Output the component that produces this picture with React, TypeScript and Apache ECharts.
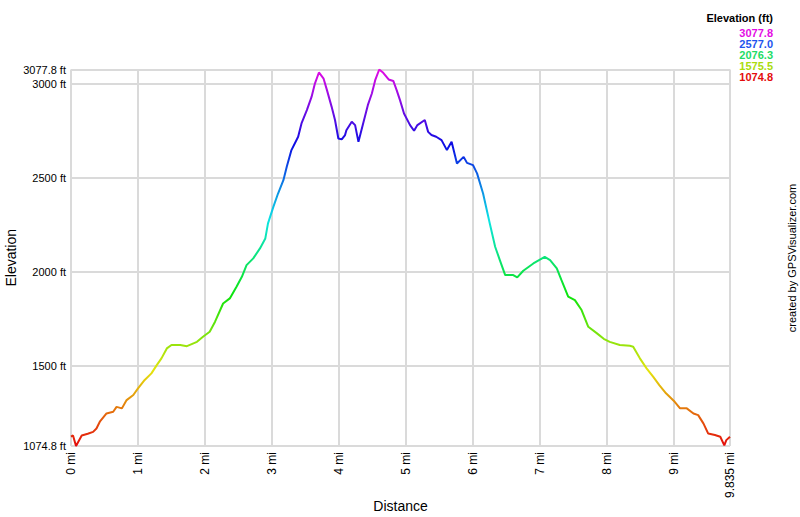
import React, { useEffect, useRef } from "react";
import * as echarts from "echarts";

// Distance along the track (miles)
const distanceMi: number[] = [
  0.0, 0.03, 0.075, 0.16, 0.25, 0.33, 0.38, 0.43, 0.53, 0.63, 0.68, 0.76, 0.83, 0.93,
  1.0, 1.1, 1.2, 1.28, 1.35, 1.43, 1.5, 1.63, 1.73, 1.88, 1.97, 2.07, 2.15, 2.27, 2.37,
  2.47, 2.55, 2.62, 2.72, 2.82, 2.9, 2.94, 3.02, 3.09, 3.17, 3.22, 3.29, 3.39, 3.44,
  3.52, 3.59, 3.64, 3.7, 3.77, 3.82, 3.89, 3.94, 3.99, 4.04, 4.09, 4.11, 4.19, 4.24,
  4.29, 4.36, 4.43, 4.49, 4.54, 4.6, 4.66, 4.74, 4.81, 4.86, 4.91, 4.97, 5.06, 5.12,
  5.17, 5.28, 5.33, 5.38, 5.45, 5.53, 5.61, 5.68, 5.76, 5.86, 5.91, 6.0, 6.06, 6.15,
  6.25, 6.33, 6.4, 6.48, 6.6, 6.66, 6.75, 6.9, 7.07, 7.15, 7.25, 7.32, 7.42, 7.52,
  7.62, 7.72, 7.85, 7.95, 8.04, 8.19, 8.34, 8.39, 8.49, 8.59, 8.69, 8.78, 8.88, 9.01,
  9.09, 9.19, 9.29, 9.36, 9.44, 9.51, 9.61, 9.69, 9.75, 9.78, 9.835,
];

// Elevation (feet)
const elevationFt: number[] = [
  1125, 1131, 1074.8, 1131, 1140, 1150, 1168, 1204, 1248, 1257, 1283, 1275, 1319, 1346,
  1381, 1426, 1461, 1505, 1541, 1594, 1612, 1612, 1606, 1629, 1656, 1683, 1736, 1833, 1860,
  1922, 1975, 2037, 2073, 2126, 2179, 2259, 2347, 2418, 2489, 2560, 2649, 2720, 2791,
  2862, 2932, 3003, 3062, 3029, 2968, 2879, 2809, 2711, 2706, 2729, 2755, 2800, 2782,
  2693, 2791, 2888, 2950, 3021, 3077.8, 3060, 3025, 3017, 2968, 2915, 2844, 2782, 2752,
  2782, 2809, 2746, 2729, 2720, 2702, 2649, 2693, 2578, 2613, 2581, 2569, 2525, 2418,
  2259, 2135, 2064, 1984, 1984, 1972, 2007, 2046, 2081, 2064, 2020, 1957, 1869, 1851,
  1798, 1709, 1674, 1645, 1629, 1612, 1608, 1603, 1541, 1488, 1443, 1399, 1355, 1310,
  1275, 1275, 1248, 1239, 1194, 1141, 1133, 1124, 1078, 1106, 1124,
];

const elevMin = 1074.8;
const elevMax = 3077.8;
const distMax = 9.835;

// Legend (colour scale) labels, top to bottom
const legendTitle = "Elevation (ft)";
const legendLabels: string[] = ["3077.8", "2577.0", "2076.3", "1575.5", "1074.8"];
const legendColors: string[] = ["#e40ce4", "#1f55ee", "#1ddc66", "#aadc0c", "#e40c0c"];

// Elevation colour ramp (low -> high)
const rampColors: string[] = [
  "#e40c0c", "#e4780c", "#e4e40c", "#78e40c", "#0ce40c", "#0ce478",
  "#0ce4e4", "#0c78e4", "#0c0ce4", "#780ce4", "#e40ce4",
];

const FONT = "'Liberation Sans', Arial, sans-serif";

export default function App() {
  const ref = useRef<HTMLDivElement>(null);

  useEffect(() => {
    if (!ref.current) return;
    const chart = echarts.init(ref.current, null, { renderer: "svg" });
    const data = distanceMi.map((d, i) => [d, elevationFt[i]]);
    const gridColor = "#dadada";

    const legendGraphics: any[] = [
      {
        type: "text",
        right: 27,
        top: 12,
        style: { text: legendTitle, font: `bold 11px ${FONT}`, fill: "#000", align: "right" },
      },
      ...legendLabels.map((t, i) => ({
        type: "text",
        right: 27,
        top: 27 + i * 11,
        style: { text: t, font: `bold 11px ${FONT}`, fill: legendColors[i], align: "right" },
      })),
      {
        type: "text",
        x: 792,
        y: 258,
        rotation: Math.PI / 2,
        style: {
          text: "created by GPSVisualizer.com",
          font: `11px ${FONT}`,
          fill: "#000",
          align: "center",
          verticalAlign: "middle",
        },
      },
    ];

    chart.setOption({
      animation: false,
      backgroundColor: "#fff",
      grid: {
        left: 71,
        right: 70,
        top: 69.5,
        bottom: 71,
        containLabel: false,
        outerBoundsMode: "none",
      },
      xAxis: {
        type: "value",
        min: 0,
        max: distMax,
        interval: 1,
        name: "Distance",
        nameLocation: "middle",
        nameGap: 53,
        nameMoveOverlap: false,
        nameTextStyle: { fontFamily: FONT, fontSize: 14, color: "#000" },
        axisLine: { show: false },
        axisTick: { show: false },
        axisLabel: {
          rotate: 90,
          margin: 6,
          showMinLabel: true,
          showMaxLabel: true,
          fontFamily: FONT,
          fontSize: 12,
          color: "#000",
          formatter: (v: number) => `${v} mi`,
        },
        splitLine: { show: true, lineStyle: { color: gridColor, width: 2 } },
      },
      yAxis: {
        type: "value",
        min: elevMin,
        max: elevMax,
        splitNumber: 4,
        name: "Elevation",
        nameLocation: "middle",
        nameRotate: 90,
        nameGap: 53,
        nameMoveOverlap: false,
        nameTextStyle: { fontFamily: FONT, fontSize: 14, color: "#000" },
        axisLine: { show: false },
        axisTick: { show: false },
        axisLabel: {
          margin: 5,
          showMinLabel: true,
          showMaxLabel: true,
          fontFamily: FONT,
          fontSize: 11,
          color: "#000",
          formatter: (v: number) => `${v} ft`,
        },
        splitLine: { show: true, lineStyle: { color: gridColor, width: 2 } },
      },
      visualMap: {
        show: false,
        type: "continuous",
        dimension: 1,
        min: elevMin,
        max: elevMax,
        inRange: { color: rampColors },
      },
      series: [
        {
          type: "line",
          data,
          showSymbol: false,
          symbol: "none",
          smooth: false,
          lineStyle: { width: 2 },
        },
      ],
      graphic: legendGraphics,
    });

    return () => chart.dispose();
  }, []);

  return (
    <div
      ref={ref}
      style={{ position: "fixed", left: 0, top: 0, width: 800, height: 517 }}
    />
  );
}
